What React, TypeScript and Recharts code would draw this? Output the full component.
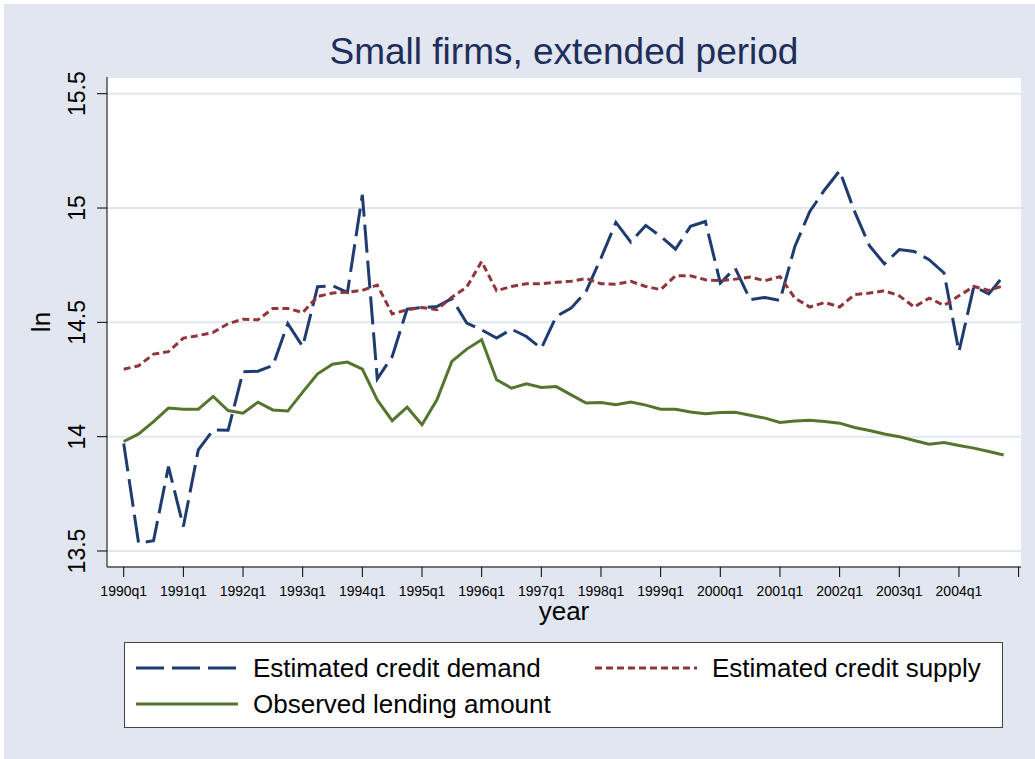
import React from 'react';
import { CartesianGrid, Legend, Line, LineChart, XAxis, YAxis } from 'recharts';

// quarterly values, 1990q1 .. 2004q4
const creditDemand = [
  13.97, 13.534, 13.545, 13.869, 13.607, 13.942, 14.03, 14.028, 14.284, 14.286,
  14.311, 14.494, 14.394, 14.656, 14.66, 14.631, 15.058, 14.253, 14.35, 14.558,
  14.565, 14.569, 14.604, 14.497, 14.467, 14.431, 14.47, 14.438, 14.386, 14.526,
  14.562, 14.635, 14.781, 14.937, 14.851, 14.924, 14.876, 14.82, 14.92, 14.941,
  14.672, 14.737, 14.599, 14.609, 14.596, 14.832, 14.985, 15.08, 15.163, 14.985,
  14.835, 14.756, 14.818, 14.81, 14.774, 14.716, 14.372, 14.657, 14.624, 14.704,
];

const creditSupply = [
  14.295, 14.31, 14.361, 14.372, 14.431, 14.442, 14.456, 14.494, 14.514, 14.511,
  14.561, 14.561, 14.543, 14.613, 14.628, 14.632, 14.64, 14.663, 14.537, 14.555,
  14.565, 14.555, 14.61, 14.654, 14.766, 14.638, 14.657, 14.669, 14.669, 14.675,
  14.68, 14.692, 14.669, 14.667, 14.679, 14.657, 14.643, 14.704, 14.704, 14.686,
  14.682, 14.689, 14.698, 14.682, 14.7, 14.606, 14.567, 14.587, 14.567, 14.621,
  14.628, 14.638, 14.616, 14.567, 14.606, 14.574, 14.616, 14.657, 14.64, 14.66,
];

const lendingAmount = [
  13.979, 14.012, 14.066, 14.125, 14.12, 14.12, 14.176, 14.114, 14.103, 14.151,
  14.117, 14.112, 14.195, 14.275, 14.317, 14.326, 14.295, 14.161, 14.07, 14.129,
  14.052, 14.161, 14.329, 14.383, 14.424, 14.249, 14.212, 14.231, 14.215, 14.219,
  14.183, 14.147, 14.149, 14.14, 14.152, 14.138, 14.12, 14.12, 14.108, 14.1,
  14.106, 14.107, 14.094, 14.081, 14.062, 14.069, 14.072, 14.066, 14.059, 14.04,
  14.027, 14.012, 14.0, 13.983, 13.967, 13.974, 13.961, 13.95, 13.935, 13.92,
];

const yearLabels = [
  '1990q1', '1991q1', '1992q1', '1993q1', '1994q1', '1995q1', '1996q1', '1997q1',
  '1998q1', '1999q1', '2000q1', '2001q1', '2002q1', '2003q1', '2004q1', '',
];

const yTicks = [13.5, 14, 14.5, 15, 15.5];

const data = creditDemand.map((v, i) => ({
  t: i,
  demand: v,
  supply: creditSupply[i],
  lending: lendingAmount[i],
}));

const xTicks = yearLabels.map((_, i) => i * 4);

const FONT = '"Liberation Sans", Arial, Helvetica, sans-serif';
const BG = '#e1e6f0';
const BLUE = '#1f3c70';
const RED = '#90353b';
const GREEN = '#55752f';
const LONG_DASH = '28 8';
const SHORT_DASH = '7 4';

const YTick = (props: any) => {
  const { x, y, payload } = props;
  return (
    <text
      x={x}
      y={y}
      transform={`rotate(-90 ${x} ${y})`}
      textAnchor="middle"
      fontSize={23}
      fontFamily={FONT}
      fill="#000"
    >
      {payload.value}
    </text>
  );
};

const YTitle = (props: any) => {
  const vb = props.viewBox;
  const x = vb.x + 46;
  const y = vb.y + vb.height / 2;
  return (
    <text x={x} y={y} transform={`rotate(-90 ${x} ${y})`} textAnchor="middle" fontSize={26} fontFamily={FONT} fill="#000">
      ln
    </text>
  );
};

const Sample = ({ color, dash }: { color: string; dash?: string }) => (
  <svg width={102} height={6} style={{ position: 'absolute', left: 0, top: -3 }}>
    <line x1={0} y1={3} x2={102} y2={3} stroke={color} strokeWidth={3} strokeDasharray={dash} />
  </svg>
);

const legendItems = [
  { label: 'Estimated credit demand', color: BLUE, dash: LONG_DASH, left: 11, top: 25 },
  { label: 'Estimated credit supply', color: RED, dash: SHORT_DASH, left: 470, top: 25 },
  { label: 'Observed lending amount', color: GREEN, dash: undefined, left: 11, top: 61 },
];

const LegendBox = () => (
  <div
    style={{
      position: 'relative',
      width: '100%',
      height: '100%',
      boxSizing: 'border-box',
      background: '#fff',
      border: '1px solid #444',
      fontFamily: FONT,
    }}
  >
    {legendItems.map((it) => (
      <div key={it.label} style={{ position: 'absolute', left: it.left, top: it.top }}>
        <Sample color={it.color} dash={it.dash} />
        <span
          style={{
            position: 'absolute',
            left: 117,
            top: -15,
            fontSize: 26,
            lineHeight: '30px',
            whiteSpace: 'nowrap',
            color: '#000',
          }}
        >
          {it.label}
        </span>
      </div>
    ))}
  </div>
);

export default function App() {
  return (
    <div style={{ position: 'absolute', left: 0, top: 0, width: 1035, height: 759, background: '#fff' }}>
      <div style={{ position: 'absolute', left: 4, top: 4, width: 1031, height: 755, background: BG }}>
        <div
          style={{
            position: 'absolute',
            left: 103,
            top: 29,
            width: 914,
            textAlign: 'center',
            fontFamily: FONT,
            fontSize: 37,
            lineHeight: '37px',
            color: '#1e2d5a',
            whiteSpace: 'nowrap',
          }}
        >
          Small firms, extended period
        </div>
        <LineChart
          width={1031}
          height={755}
          data={data}
          margin={{ top: 73, right: 14, bottom: 0, left: 0 }}
          style={{ position: 'absolute', left: 0, top: 0 }}
        >
          <CartesianGrid vertical={false} stroke={BG} strokeWidth={2} fill="#fff" />
          <XAxis
            dataKey="t"
            type="number"
            domain={[-1.12, 60.16]}
            ticks={xTicks}
            interval={0}
            allowDataOverflow
            height={192}
            tickSize={10}
            tickMargin={9}
            tickFormatter={(v: number) => yearLabels[v / 4]}
            tick={{ fontSize: 14, fontFamily: FONT, fill: '#000' }}
            stroke="#000"
            label={{ value: 'year', position: 'insideTop', offset: 35, fontSize: 26, fontFamily: FONT, fill: '#000' }}
          />
          <YAxis
            type="number"
            domain={[13.43, 15.573]}
            ticks={yTicks}
            interval={0}
            allowDataOverflow
            width={103}
            tickSize={10}
            tickMargin={12}
            tick={<YTick />}
            stroke="#000"
            label={YTitle}
          />
          <Line
            dataKey="demand"
            stroke={BLUE}
            strokeWidth={3}
            strokeDasharray={LONG_DASH}
            dot={false}
            isAnimationActive={false}
          />
          <Line
            dataKey="supply"
            stroke={RED}
            strokeWidth={3}
            strokeDasharray={SHORT_DASH}
            dot={false}
            isAnimationActive={false}
          />
          <Line
            dataKey="lending"
            stroke={GREEN}
            strokeWidth={3}
            dot={false}
            isAnimationActive={false}
          />
          <Legend
            layout="horizontal"
            verticalAlign="middle"
            align="center"
            content={<LegendBox />}
            wrapperStyle={{ left: 120, top: 638, width: 879, height: 86 }}
          />
        </LineChart>
      </div>
    </div>
  );
}
